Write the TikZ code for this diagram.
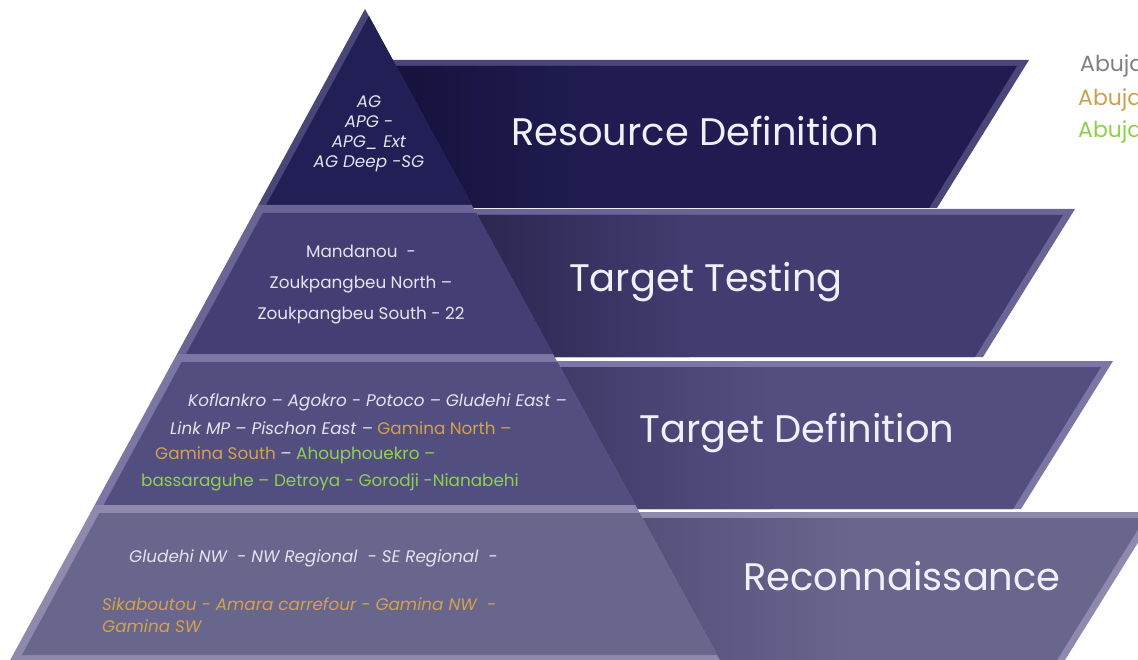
\documentclass[tikz,border=0pt]{standalone}
\usepackage{fontspec}
\setmainfont{Poppins}
\definecolor{tA}{HTML}{221E56}
\definecolor{tAb}{HTML}{4B4678}
\definecolor{tB}{HTML}{433F74}
\definecolor{tBb}{HTML}{6B6596}
\definecolor{tC}{HTML}{524E80}
\definecolor{tCb}{HTML}{7C76A4}
\definecolor{tD}{HTML}{68668D}
\definecolor{tDb}{HTML}{8E89AD}
\definecolor{bA}{HTML}{201C52}
\definecolor{bAd}{HTML}{15123C}
\definecolor{bB}{HTML}{413D70}
\definecolor{bBd}{HTML}{2A2750}
\definecolor{bC}{HTML}{524E80}
\definecolor{bCd}{HTML}{3F3B68}
\definecolor{bD}{HTML}{68668D}
\definecolor{bDd}{HTML}{53507A}
\definecolor{txtw}{HTML}{E4E4EE}
\definecolor{bantxt}{HTML}{EEF0FA}
\definecolor{orng}{HTML}{D4A24C}
\definecolor{grn}{HTML}{8FD14F}
\definecolor{lgray}{HTML}{808080}
\definecolor{lorng}{HTML}{C9A050}
\definecolor{lgrn}{HTML}{8DD04A}
\begin{document}
\begin{tikzpicture}[x=1pt,y=-1pt,
  small/.style={font=\fontsize{16.8}{20}\selectfont, text=txtw, inner sep=0pt},
  smallc/.style={small, align=center},
  bantext/.style={font=\fontsize{38.4}{44}\selectfont, text=bantxt, inner sep=0pt},
  legend/.style={font=\fontsize{22}{26}\selectfont, inner sep=0pt, anchor=west}]
\useasboundingbox (0,0) rectangle (1138,660);
\clip (0,0) rectangle (1138,660);
% ---------- banners ----------
% B1
\fill[tAb] (365,60) -- (1029,60) -- (937,208) -- (365,208) -- cycle;
\fill[bA] (365,66) -- (1017,66) -- (929,208) -- (365,208) -- cycle;
\begin{scope}
\clip (365,66) -- (1017,66) -- (929,208) -- (365,208) -- cycle;
\shade[left color=bAd, right color=bA] (390,60) rectangle (600,210);
\end{scope}
% B2
\fill[tBb] (365,209) -- (1075,209) -- (983,357) -- (365,357) -- cycle;
\fill[bB] (365,215) -- (1063,215) -- (975,357) -- (365,357) -- cycle;
\begin{scope}
\clip (365,215) -- (1063,215) -- (975,357) -- (365,357) -- cycle;
\shade[left color=bBd, right color=bB] (470,210) rectangle (690,360);
\end{scope}
% B3
\fill[tCb] (365,361) -- (1113,361) -- (1021,509) -- (365,509) -- cycle;
\fill[bC] (365,367) -- (1101,367) -- (1013,509) -- (365,509) -- cycle;
\begin{scope}
\clip (365,367) -- (1101,367) -- (1013,509) -- (365,509) -- cycle;
\shade[left color=bCd, right color=bC] (555,360) rectangle (770,510);
\end{scope}
% B4
\fill[tDb] (365,512) -- (1157,512) -- (1065,660) -- (365,660) -- cycle;
\fill[bD] (365,518) -- (1145,518) -- (1057,660) -- (365,660) -- cycle;
\begin{scope}
\clip (365,518) -- (1145,518) -- (1057,660) -- (365,660) -- cycle;
\shade[left color=bDd, right color=bD] (635,512) rectangle (850,660);
\end{scope}
% ---------- pyramid tiers ----------
\fill[tAb] (365,9) -- (471.8,205) -- (258.2,205) -- cycle;
\fill[tA] (369,16) -- (471.8,205) -- (266.2,205) -- cycle;
\fill[tBb] (258.2,205) -- (471.8,205) -- (553,354) -- (177,354) -- cycle;
\fill[tB] (262.8,213) -- (476.2,213) -- (553,354) -- (186,354) -- cycle;
\fill[tCb] (177,354) -- (553,354) -- (635.3,505) -- (94.7,505) -- cycle;
\fill[tC] (181.6,362) -- (557.4,362) -- (635.3,505) -- (103.7,505) -- cycle;
\fill[tDb] (94.7,505) -- (635.3,505) -- (719.8,660) -- (10.2,660) -- cycle;
\fill[tD] (99.3,513) -- (639.7,513) -- (717.1,655) -- (21.9,655) -- cycle;
% ---------- banner labels ----------
\node[bantext] (lab1) at (695,131) {Resource Definition};
\node[bantext] (lab2) at (706,282) {Target Testing};
\node[bantext] (lab3) at (797,433) {Target Definition};
\node[bantext] (lab4) at (902,576) {Reconnaissance};
% ---------- tier texts ----------
\node[smallc, font=\fontsize{16.8}{20}\selectfont\itshape] (t1) at (369,133.5)
  {AG\\APG -\\APG\_ Ext\\AG Deep -SG};
\node[smallc, font=\fontsize{16.8}{31}\selectfont] (t2) at (361,285)
  {Mandanou\ \ -\\Zoukpangbeu North –\\Zoukpangbeu South - 22};
\node[small, anchor=west] (t3a) at (188,402) {\itshape Koflankro – Agokro - Potoco – Gludehi East –};
\node[small, anchor=west] (t3b) at (170,428) {{\itshape Link MP – Pischon East –} \textcolor{orng}{Gamina North –}};
\node[small, anchor=west] (t3c) at (155,455) {\textcolor{orng}{Gamina South} – \textcolor{grn}{Ahouphouekro –}};
\node[small, anchor=west] (t3d) at (141,482) {\textcolor{grn}{bassaraguhe – Detroya - Gorodji -Nianabehi}};
\node[small, anchor=west] (t4a) at (129,558) {\itshape Gludehi NW\ \ - NW Regional\ \ - SE Regional\ \ -};
\node[small, anchor=west, text=orng] (t4b) at (102,604) {\itshape Sikaboutou - Amara carrefour - Gamina NW\ \ -};
\node[small, anchor=west, text=orng] (t4c) at (102,626) {\itshape Gamina SW};
% ---------- legend ----------
\node[legend, text=lgray] (lg1) at (1080,66) {Abuja};
\node[legend, text=lorng] (lg2) at (1078,100) {Abuja};
\node[legend, text=lgrn] (lg3) at (1078,132) {Abuja};
\end{tikzpicture}
\end{document}
